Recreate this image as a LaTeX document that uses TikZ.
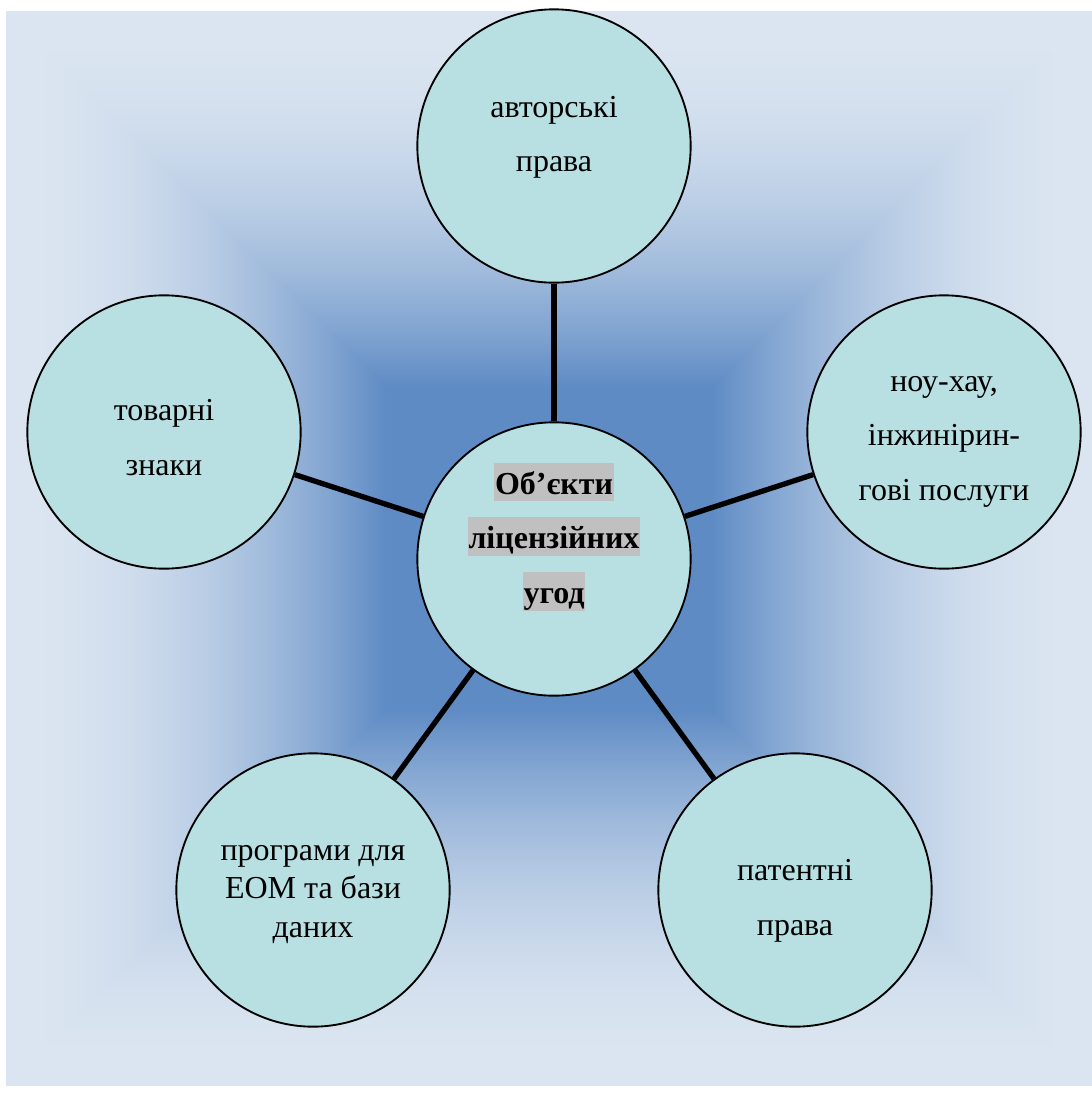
\documentclass[tikz,border=0pt]{standalone}
\usepackage{fontspec}
\setmainfont{Liberation Serif}
\definecolor{circfill}{HTML}{B8E0E3}
\definecolor{hlgray}{HTML}{C0C0C0}
% square path gradient: dark core, light rim
\pgfdeclarefunctionalshading{bgpath}{\pgfpoint{-50bp}{-50bp}}{\pgfpoint{50bp}{50bp}}{}{
  abs exch abs 2 copy lt {exch} if pop
  25 div 0.3 sub 0.7 div
  dup 0 lt {pop 0} if dup 1 gt {pop 1} if
  1 exch sub dup mul 1 exch sub
  dup 0.49 mul 0.37 add
  exch dup 0.355 mul 0.545 add
  exch 0.175 mul 0.77 add
}
\newcommand{\hlline}[1]{{\fboxsep=0.6pt\colorbox{hlgray}{\rule[-0.2em]{0pt}{1.16em}#1}}}
\newcommand{\dropby}[1]{\rule[-#1]{0pt}{#1}}
\newcommand{\liftby}[1]{\rule{0pt}{#1}}

\begin{document}
\begin{tikzpicture}[x=0.75pt,y=-0.75pt,
  obj/.style={circle,draw,line width=1.4pt,fill=circfill,minimum size=205pt,inner sep=0pt,
    align=center,font=\fontsize{24}{41}\selectfont},
  link/.style={line width=4pt}]
  \useasboundingbox (0,0) rectangle (1092,1100);
  \shade[shading=bgpath] (6,11) rectangle (1092,1085);
  \node[obj,font=\fontsize{24}{41}\selectfont\bfseries] (lic) at (554,559)
    {\hlline{Об’єкти}\\\hlline{ліцензійних}\\\hlline{угод}\dropby{39pt}};
  \node[obj] (avt) at (554,146) {авторські\\права\dropby{18pt}};
  \node[obj] (nou) at (944,432) {\liftby{26pt}ноу-хау,\\інжинірин-\\гові послуги};
  \node[obj] (tov) at (164,432) {\liftby{24pt}товарні\\знаки};
  \node[obj] (pat) at (795,890) {\liftby{32pt}патентні\\права};
  \node[obj,font=\fontsize{24}{29}\selectfont] (prg) at (313,890) {\liftby{18pt}програми для\\ЕОМ та бази\\даних};
  \draw[link](lic)--(avt);\draw[link](lic)--(nou);\draw[link](lic)--(tov);
  \draw[link](lic)--(pat);\draw[link](lic)--(prg);
\end{tikzpicture}
\end{document}
